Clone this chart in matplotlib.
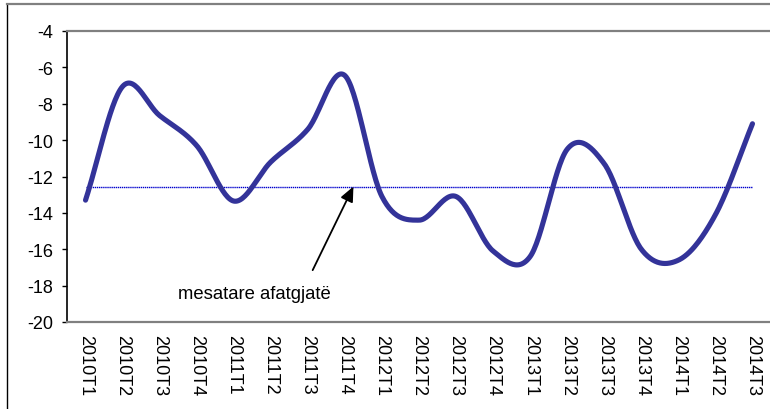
import numpy as np
import matplotlib
matplotlib.use("Agg")
import matplotlib.pyplot as plt
from matplotlib.lines import Line2D

plt.rcParams['font.family'] = ['Liberation Sans', 'DejaVu Sans']

categories = ["2010T1", "2010T2", "2010T3", "2010T4",
              "2011T1", "2011T2", "2011T3", "2011T4",
              "2012T1", "2012T2", "2012T3", "2012T4",
              "2013T1", "2013T2", "2013T3", "2013T4",
              "2014T1", "2014T2", "2014T3"]
values = [-13.3, -7.05, -8.65, -10.3,
          -13.35, -11.2, -9.4, -6.45,
          -13.1, -14.4, -13.1, -16.1,
          -16.4, -10.5, -11.3, -16.0,
          -16.6, -14.1, -9.1]
long_term_mean = -12.55
yticks = [-4, -6, -8, -10, -12, -14, -16, -18, -20]
annotation_text = "mesatare afatgjatë"


def catmull_rom(x, y, n=30):
    x = np.asarray(x, float)
    y = np.asarray(y, float)
    px = np.concatenate([[2 * x[0] - x[1]], x, [2 * x[-1] - x[-2]]])
    py = np.concatenate([[2 * y[0] - y[1]], y, [2 * y[-1] - y[-2]]])
    xs, ys = [], []
    t = np.linspace(0, 1, n, endpoint=False)
    for i in range(1, len(px) - 2):
        p0, p1, p2, p3 = py[i - 1], py[i], py[i + 1], py[i + 2]
        q0, q1, q2, q3 = px[i - 1], px[i], px[i + 1], px[i + 2]
        b1y = p1 + (p2 - p0) / 6
        b2y = p2 - (p3 - p1) / 6
        b1x = q1 + (q2 - q0) / 6
        b2x = q2 - (q3 - q1) / 6
        bx = (1 - t) ** 3 * q1 + 3 * (1 - t) ** 2 * t * b1x + 3 * (1 - t) * t ** 2 * b2x + t ** 3 * q2
        by = (1 - t) ** 3 * p1 + 3 * (1 - t) ** 2 * t * b1y + 3 * (1 - t) * t ** 2 * b2y + t ** 3 * p2
        xs.append(bx)
        ys.append(by)
    xs.append([x[-1]])
    ys.append([y[-1]])
    return np.concatenate(xs), np.concatenate(ys)


fig = plt.figure(figsize=(7.7, 4.1), dpi=100)
ax = fig.add_axes([67 / 770, 1 - 323 / 410, 704 / 770, 291 / 410])

xpos = np.arange(len(categories))
sx, sy = catmull_rom(xpos, values)
ax.plot([xpos[0], xpos[-1]], [long_term_mean, long_term_mean],
        color="#0000cc", lw=1.0, ls=(0, (1, 0.5)), zorder=2)
ax.plot(sx, sy, color="#333399", lw=3.7, solid_capstyle="round", zorder=3)

ax.set_xlim(-0.5, len(categories) - 0.5)
ax.set_ylim(-20, -4)
ax.set_yticks(yticks)
ax.set_yticklabels([str(v) for v in yticks], fontsize=13)
ax.set_xticks(xpos)
ax.set_xticklabels(categories, rotation=270, fontsize=13)
ax.tick_params(axis="x", length=0, pad=8.5)
ax.tick_params(axis="y", length=3.6, width=1, direction="out", pad=6.5)

for side in ["top", "bottom"]:
    ax.spines[side].set_color("#808080")
    ax.spines[side].set_linewidth(1.6)
ax.spines["left"].set_color("black")
ax.spines["left"].set_linewidth(1.2)
ax.spines["right"].set_visible(False)

ax.annotate("", xy=(7.23, long_term_mean), xytext=(6.13, -17.15),
            arrowprops=dict(arrowstyle="-|>,head_length=0.9,head_width=0.4",
                            color="black", lw=1.3, shrinkA=0, shrinkB=0))
ax.text(4.56, -18.42, annotation_text, ha="center", va="center", fontsize=13.3)

# outer chart frame
fig.add_artist(Line2D([7 / 770, 7 / 770], [0, 1 - 5 / 410], color="black", lw=1.0,
                      transform=fig.transFigure))
fig.add_artist(Line2D([7 / 770, 1], [1 - 5 / 410, 1 - 5 / 410], color="#808080", lw=1.6,
                      transform=fig.transFigure))

fig.savefig("out.png", dpi=100)
